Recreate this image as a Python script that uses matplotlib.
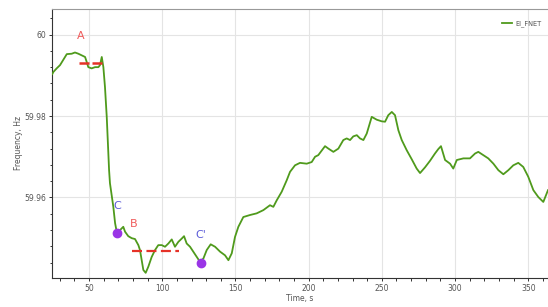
import numpy as np
import matplotlib
matplotlib.use("Agg")
import matplotlib.pyplot as plt
from matplotlib.ticker import MultipleLocator

# frequency trace (time in s, frequency in Hz)
time_s = [24.9, 25.6, 27.9, 30.2, 33.6, 34.8, 38.2, 40.4, 42.7, 45.0,
          47.3, 48.4, 49.5, 51.8, 54.1, 56.4, 57.5, 58.7, 59.8, 60.9,
          62.1, 63.2, 63.7, 64.3, 66.6, 67.8, 68.9, 71.2, 73.4, 74.6,
          76.8, 79.2, 81.4, 83.7, 84.8, 86.0, 87.1, 88.7, 90.5, 92.8,
          95.1, 97.3, 99.7, 101.9, 104.2, 106.5, 108.7, 111.0, 113.3, 114.9,
          116.7, 119.0, 121.2, 123.6, 125.8, 128.1, 130.4, 133.1, 136.1, 139.5,
          142.9, 145.2, 147.5, 149.7, 152.0, 155.4, 160.0, 164.5, 169.1, 173.6,
          175.9, 178.2, 181.6, 185.0, 187.3, 190.7, 194.1, 198.7, 202.1, 204.4,
          206.6, 211.2, 213.5, 216.9, 220.3, 223.7, 226.0, 228.3, 230.5, 232.9,
          235.1, 237.4, 239.7, 243.1, 246.5, 249.9, 252.2, 254.4, 256.8, 259.0,
          261.3, 263.6, 267.0, 270.4, 273.8, 276.1, 279.5, 282.9, 286.3, 288.6,
          290.4, 293.2, 296.6, 298.8, 301.2, 305.7, 310.2, 313.7, 315.9, 319.3,
          322.7, 326.2, 329.6, 333.0, 336.4, 339.8, 343.2, 346.6, 350.0, 353.5,
          356.9, 360.3, 362.6, 363.5]
freq_hz = [59.9903, 59.9908, 59.9917, 59.9925, 59.9945, 59.9952, 59.9953, 59.9956, 59.9953, 59.9949,
           59.9945, 59.9933, 59.9920, 59.9917, 59.9920, 59.9920, 59.9925, 59.9945, 59.9920, 59.9871,
           59.9798, 59.9709, 59.9667, 59.9635, 59.9577, 59.9537, 59.9516, 59.9520, 59.9528, 59.9516,
           59.9505, 59.9500, 59.9498, 59.9483, 59.9471, 59.9446, 59.9422, 59.9415, 59.9430, 59.9454,
           59.9471, 59.9483, 59.9483, 59.9479, 59.9487, 59.9497, 59.9479, 59.9491, 59.9499, 59.9505,
           59.9487, 59.9479, 59.9467, 59.9454, 59.9442, 59.9450, 59.9471, 59.9485, 59.9479, 59.9467,
           59.9458, 59.9446, 59.9463, 59.9503, 59.9528, 59.9552, 59.9557, 59.9561, 59.9569, 59.9581,
           59.9577, 59.9593, 59.9614, 59.9642, 59.9663, 59.9679, 59.9685, 59.9683, 59.9687, 59.9700,
           59.9704, 59.9726, 59.9720, 59.9712, 59.9720, 59.9741, 59.9745, 59.9741, 59.9750, 59.9753,
           59.9745, 59.9741, 59.9757, 59.9798, 59.9791, 59.9787, 59.9786, 59.9802, 59.9810, 59.9802,
           59.9765, 59.9741, 59.9716, 59.9694, 59.9671, 59.9660, 59.9674, 59.9690, 59.9708, 59.9719,
           59.9726, 59.9692, 59.9683, 59.9671, 59.9692, 59.9696, 59.9696, 59.9708, 59.9712, 59.9704,
           59.9696, 59.9683, 59.9667, 59.9657, 59.9667, 59.9679, 59.9685, 59.9675, 59.9651, 59.9618,
           59.9601, 59.9589, 59.9610, 59.9618]

# annotation levels
level_a_t = [43.2, 58.7]
level_a_f = 59.9931
level_b_t = [79.2, 111.5]
level_b_f = 59.9468
points_t = [69.3, 126.5]
points_f = [59.9513, 59.9440]
labels = ["A", "C", "B", "C'"]
labels_t = [44.3, 69.3, 80.3, 126.5]
labels_f = [59.9997, 59.9579, 59.9536, 59.9507]
labels_c = ["#f05a5a", "#5a5ad8", "#f05a5a", "#5a5ad8"]

fig = plt.figure(figsize=(5.48, 3.07), dpi=100)
ax = fig.add_axes([0.0954, 0.0954, 0.9046, 0.8769])

ax.plot(time_s, freq_hz, color="#4f9a1c", lw=1.3, label="El_FNET", zorder=3)
ax.plot(level_a_t, [level_a_f] * 2, color="#e53228", lw=1.8,
        linestyle=(0, (4, 1.2)), zorder=4)
ax.plot(level_b_t, [level_b_f] * 2, color="#e53228", lw=1.6,
        linestyle=(0, (4.5, 2)), zorder=4)
ax.plot(points_t, points_f, "o", color="#9a35e6", ms=6, zorder=5)
for s, t, f, c in zip(labels, labels_t, labels_f, labels_c):
    ax.text(t, f, s, color=c, fontsize=8, ha="center", va="center")

ax.set_xlim(24.9, 363.5)
ax.set_ylim(59.9403, 60.0064)
ax.xaxis.set_major_locator(MultipleLocator(50))
ax.xaxis.set_minor_locator(MultipleLocator(10))
ax.yaxis.set_major_locator(MultipleLocator(0.02))
ax.yaxis.set_minor_locator(MultipleLocator(0.004))
ax.yaxis.set_major_formatter(plt.FuncFormatter(lambda v, p: f"{v:.2f}".rstrip("0").rstrip(".")))
ax.grid(True, which="major", color="#e4e4e4", lw=0.8)
ax.tick_params(which="both", direction="out", labelsize=5.5, labelcolor="#555555",
               color="#333333", length=2.5, width=0.7, pad=2)
ax.tick_params(which="minor", length=1.8)

ax.spines["top"].set_color("#999999")
ax.spines["right"].set_visible(False)
ax.spines["left"].set_color("#333333")
ax.spines["bottom"].set_color("#333333")

ax.set_xlabel("Time, s", fontsize=5.5, color="#555555", labelpad=1)
ax.set_ylabel("Frequency, Hz", fontsize=5.5, color="#555555", labelpad=1)

ax.legend(loc="upper left", bbox_to_anchor=(0.907, 0.948), bbox_transform=fig.transFigure,
          frameon=False, fontsize=4.8, handlelength=1.5, handletextpad=0.5,
          labelcolor="#555555", borderpad=0.2)

fig.savefig("out.png", dpi=100)
